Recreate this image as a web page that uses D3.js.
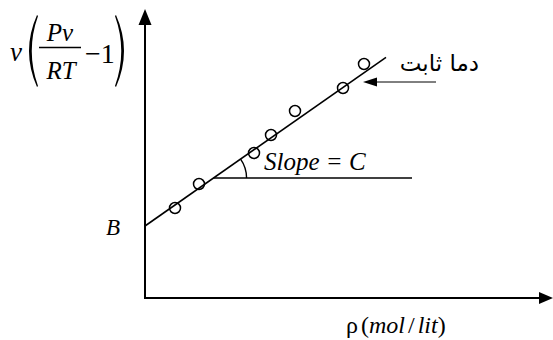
<!DOCTYPE html>
<html>
<head>
<meta charset="utf-8">
<script src="https://cdn.jsdelivr.net/npm/d3@7"></script>
</head>
<body style="margin:0;background:#fff">
<svg id="chart" width="553" height="340" style="display:block"></svg>
<script>
// Measured density values and the compressibility term v(Pv/RT - 1)
const rho = [7.5, 13.5, 27.25, 31.5, 37.5, 49.5, 54.75];
const virialTerm = [22.5, 28.5, 36.25, 40.75, 46.75, 52.5, 58.5];

// Straight-line fit: intercept B, slope C
const interceptB = 18;
const slopeC = 0.70;
const fitRange = [0, 60.25];

// Horizontal reference line used to show the slope angle
const refLevel = 30;
const refEnd = 66.75;

// Pointer arrow to the isotherm label
const pointerY = 54;
const pointerX = [72.75, 54.5];

const SERIF = "Liberation Serif";

const svg = d3.select("#chart");

const x = d3.scaleLinear().domain([0, 100]).range([145, 545]);
const y = d3.scaleLinear().domain([0, 72]).range([298, 10]);

const fit = v => interceptB + slopeC * v;

// Serif text helper
function serifText(parent, px, py, size, italic, str) {
  return parent.append("text")
    .attr("x", px).attr("y", py)
    .attr("font-size", size)
    .attr("font-family", SERIF)
    .attr("font-style", italic ? "italic" : "normal")
    .text(str);
}

// Axes as arrows
svg.append("line")
  .attr("x1", x(0)).attr("y1", y(0))
  .attr("x2", x(0)).attr("y2", y(0) - 274)
  .attr("stroke", "#000").attr("stroke-width", 2);
svg.append("path")
  .attr("d", `M${x(0)},${y(72) - 1} L${x(0) - 6.5},${y(72) + 15} L${x(0) + 6.5},${y(72) + 15} Z`)
  .attr("fill", "#000");

svg.append("line")
  .attr("x1", x(0) - 1).attr("y1", y(0))
  .attr("x2", 540).attr("y2", y(0))
  .attr("stroke", "#000").attr("stroke-width", 2);
svg.append("path")
  .attr("d", `M553,${y(0)} L539,${y(0) - 6} L539,${y(0) + 6} Z`)
  .attr("fill", "#000");

// Fitted line
svg.append("line")
  .attr("x1", x(fitRange[0])).attr("y1", y(fit(fitRange[0])))
  .attr("x2", x(fitRange[1])).attr("y2", y(fit(fitRange[1])))
  .attr("stroke", "#000").attr("stroke-width", 1.6);

// Reference line and slope angle arc
const xCross = (refLevel - interceptB) / slopeC;
svg.append("line")
  .attr("x1", x(xCross)).attr("y1", y(refLevel))
  .attr("x2", x(refEnd)).attr("y2", y(refLevel))
  .attr("stroke", "#000").attr("stroke-width", 1.6);

const theta = Math.atan(slopeC * (x(1) - x(0)) / (y(0) - y(1)));
const r = 33;
const arcPath = d3.path();
const cx = x(xCross), cy = y(refLevel);
arcPath.moveTo(cx + r * Math.cos(-theta), cy + r * Math.sin(-theta));
arcPath.arc(cx, cy, r, -theta, 0);
svg.append("path").attr("d", arcPath.toString())
  .attr("fill", "none").attr("stroke", "#000").attr("stroke-width", 1.4);

// Data points
svg.selectAll("circle.pt")
  .data(rho.map((d, i) => [d, virialTerm[i]]))
  .join("circle")
  .attr("class", "pt")
  .attr("cx", d => x(d[0])).attr("cy", d => y(d[1]))
  .attr("r", 5.5)
  .attr("fill", "none").attr("stroke", "#000").attr("stroke-width", 1.5);

// Pointer arrow
svg.append("line")
  .attr("x1", x(pointerX[0])).attr("y1", y(pointerY))
  .attr("x2", x(pointerX[1]) + 10).attr("y2", y(pointerY))
  .attr("stroke", "#000").attr("stroke-width", 1);
svg.append("path")
  .attr("d", `M${x(pointerX[1])},${y(pointerY)} L${x(pointerX[1]) + 14},${y(pointerY) - 4.5} L${x(pointerX[1]) + 14},${y(pointerY) + 4.5} Z`)
  .attr("fill", "#000");

// Labels
serifText(svg, 264, 170, 25, true, "Slope = C");
serifText(svg, 106, 235, 23, true, "B");

const xl = serifText(svg, 346, 333, 24, false, "");
xl.append("tspan").text("ρ");
xl.append("tspan").attr("dx", 3).text("(");
xl.append("tspan").attr("font-style", "italic").text("mol");
xl.append("tspan").attr("dx", 3).text("/");
xl.append("tspan").attr("dx", 3).attr("font-style", "italic").text("lit");
xl.append("tspan").text(")");

// Y label: v( Pv/RT − 1 )
serifText(svg, 10, 61, 27, true, "v");
svg.append("path")
  .attr("d", "M37,15 Q21,51 37,87 L38,86 Q25.5,51 38,16 Z")
  .attr("fill", "#000");
serifText(svg, 60, 41, 25, true, "Pv").attr("text-anchor", "middle");
svg.append("line").attr("x1", 39).attr("x2", 81).attr("y1", 47.5).attr("y2", 47.5)
  .attr("stroke", "#000").attr("stroke-width", 1.3);
serifText(svg, 61, 79, 25, true, "RT").attr("text-anchor", "middle");
serifText(svg, 85, 63, 28, false, "−1");
svg.append("path")
  .attr("d", "M116,15 Q132,51 116,87 L115,86 Q127.5,51 115,16 Z")
  .attr("fill", "#000");

// Isotherm label (Persian)
svg.append("text")
  .attr("x", 479).attr("y", 71)
  .attr("text-anchor", "end")
  .attr("font-family", "DejaVu Sans")
  .attr("font-size", 23)
  .text("دما ثابت");
</script>
</body>
</html>
